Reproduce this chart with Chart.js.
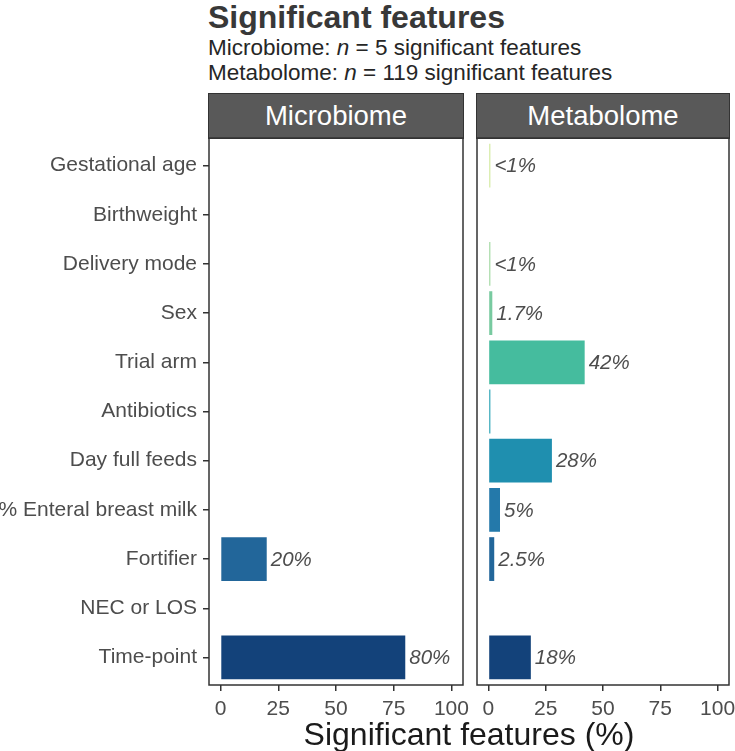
<!DOCTYPE html>
<html><head><meta charset="utf-8">
<script src="https://cdn.jsdelivr.net/npm/chart.js@4.4.1/dist/chart.umd.min.js"></script>
<style>
html,body{margin:0;padding:0;background:#fff;}
#wrap{position:relative;width:735px;height:751px;overflow:hidden;font-family:"Liberation Sans",Arial,Helvetica,sans-serif;}
.abs{position:absolute;white-space:nowrap;}
#title{left:208px;top:1px;font-size:32px;line-height:32px;font-weight:bold;color:#383838;}
.sub{left:208px;font-size:22.5px;line-height:22.5px;color:#262626;}
.strip{position:absolute;top:93px;height:46px;background:#595959;box-sizing:border-box;border:1.5px solid #333;color:#fff;font-size:27.5px;display:flex;align-items:center;justify-content:center;}
#xtitle{left:469px;top:718px;transform:translateX(-50%);font-size:32px;line-height:32px;color:#1a1a1a;}
canvas{position:absolute;}
</style></head>
<body>
<div id="wrap">
  <div id="title" class="abs">Significant features</div>
  <div class="abs sub" style="top:37px">Microbiome: <i>n</i> = 5 significant features</div>
  <div class="abs sub" style="top:62px">Metabolome: <i>n</i> = 119 significant features</div>
  <div class="strip" style="left:208px;width:256px">Microbiome</div>
  <div class="strip" style="left:476px;width:254px">Metabolome</div>
  <canvas id="c1" width="470" height="621" style="left:0;top:130px"></canvas>
  <canvas id="c2" width="265" height="621" style="left:470px;top:130px"></canvas>
  <div id="xtitle" class="abs">Significant features (%)</div>
</div>
<script>
const categories = ["Gestational age","Birthweight","Delivery mode","Sex","Trial arm","Antibiotics","Day full feeds","% Enteral breast milk","Fortifier","NEC or LOS","Time-point"];
const microbiomeValues = [0,0,0,0,0,0,0,0,20,0,80];
const metabolomeValues = [0.84,0,0.84,1.68,42.0,0.84,27.7,5.04,2.52,0,18.5];
const microbiomeLabels = ["","","","","","","","","20%","","80%"];
const metabolomeLabels = ["<1%","","<1%","1.7%","42%","","28%","5%","2.5%","","18%"];
const xTicks = [0,25,50,75,100];
const categoryColors = ["#d3eaa0","#b9e3a6","#a3d9a3","#78caa0","#45bc9e","#2ea5b7","#1f8faf","#2479aa","#22669a","#1c5489","#13427a"];

Chart.defaults.font.family = '"Liberation Sans", Arial, sans-serif';

const boxPlugin = {id:'box', afterDraw(chart){
  const a = chart.chartArea, c = chart.ctx;
  c.save(); c.strokeStyle = '#333'; c.lineWidth = 1.5;
  c.strokeRect(a.left, a.top, a.right - a.left, a.bottom - a.top);
  c.restore();
}};
const labelPlugin = {id:'barLabels', afterDatasetsDraw(chart, args, opts){
  const meta = chart.getDatasetMeta(0), ctx = chart.ctx;
  ctx.save();
  ctx.font = 'italic 20.5px "Liberation Sans", Arial, sans-serif';
  ctx.fillStyle = '#4d4d4d'; ctx.textAlign = 'left'; ctx.textBaseline = 'middle';
  meta.data.forEach((bar, i) => { const t = opts.labels[i]; if (t) ctx.fillText(t, bar.x + 4, bar.y + 1); });
  ctx.restore();
}};

function makeChart(id, values, labels, showY, pad){
  const points = values.map((v, i) => ({x: v, y: i}));
  return new Chart(document.getElementById(id), {
    type: 'bar',
    data: {datasets: [{data: points, backgroundColor: categoryColors, borderWidth: 0, barPercentage: 0.89, categoryPercentage: 1.0}]},
    options: {
      indexAxis: 'y', responsive: false, animation: false, devicePixelRatio: 1,
      layout: {padding: pad},
      plugins: {legend: {display: false}, tooltip: {enabled: false}, barLabels: {labels: labels}},
      scales: {
        x: {type: 'linear', min: -5, max: 105,
          afterBuildTicks(s){ s.ticks = xTicks.map(v => ({value: v})); },
          afterFit(s){ s.height = 66; s.paddingLeft = 0; s.paddingRight = 0; },
          grid: {display: true, drawOnChartArea: false, drawTicks: true, tickLength: 6, color: '#333', lineWidth: 1.5},
          border: {display: false},
          ticks: {color: '#4d4d4d', font: {size: 21}, padding: 6, maxRotation: 0, autoSkip: false}},
        y: {type: 'linear', display: showY, reverse: true, offset: false, min: -0.56, max: categories.length - 1 + 0.56,
          afterBuildTicks(s){ s.ticks = categories.map((c, i) => ({value: i})); },
          afterFit(s){ if (showY) s.width = 209; s.paddingTop = 0; s.paddingBottom = 0; },
          grid: {offset: false, drawOnChartArea: false, drawTicks: true, tickLength: 6, color: '#333', lineWidth: 1.5},
          border: {display: false},
          ticks: {color: '#4d4d4d', font: {size: 21}, padding: 6, autoSkip: false, callback: (v) => categories[v]}}
      }
    },
    plugins: [boxPlugin, labelPlugin]
  });
}
makeChart('c1', microbiomeValues, microbiomeLabels, true, {top: 8, right: 7, left: 0, bottom: 0});
makeChart('c2', metabolomeValues, metabolomeLabels, false, {top: 8, right: 6, left: 7, bottom: 0});
</script>
</body></html>
